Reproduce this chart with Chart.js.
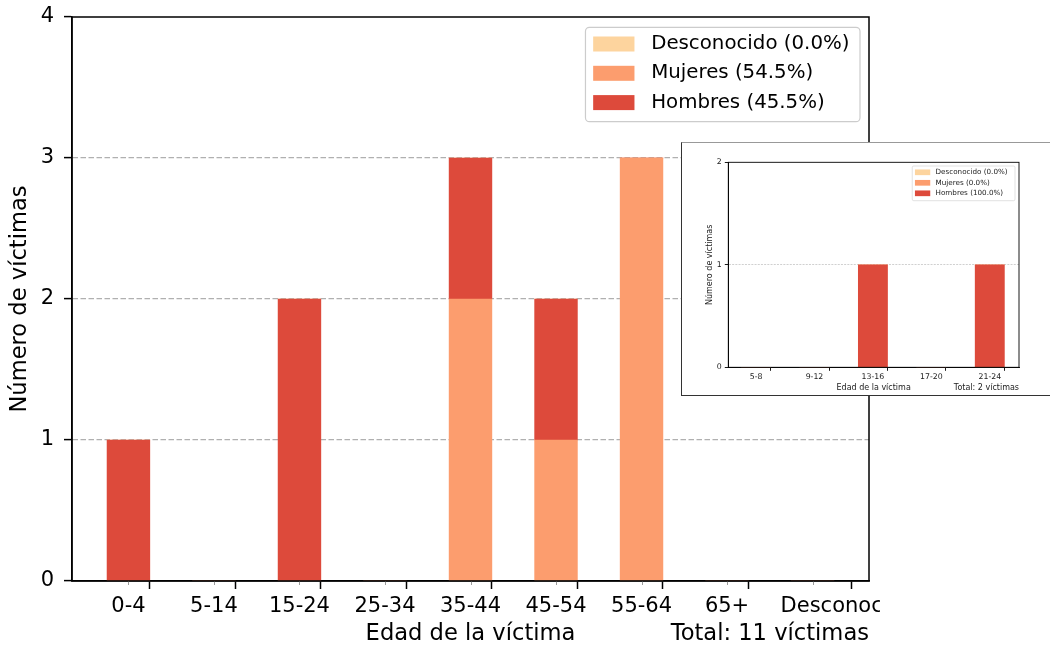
<!DOCTYPE html>
<html>
<head>
<meta charset="utf-8">
<script src="https://cdn.jsdelivr.net/npm/chart.js@4.4.1/dist/chart.umd.min.js"></script>
<style>
html,body{margin:0;padding:0;background:#fff;}
body{width:1050px;height:652px;position:relative;overflow:hidden;}
#mainWrap{position:absolute;left:0;top:0;width:880px;height:652px;overflow:hidden;}
#mainWrap canvas{position:absolute;left:0;top:0;}
#inset{position:absolute;left:681px;top:142px;width:369px;height:252px;border-left:1px solid #333;border-top:1px solid #999;border-bottom:1px solid #333;background:#fff;overflow:hidden;}
#inset canvas{position:absolute;left:0;top:0;}
</style>
</head>
<body>
<div id="mainWrap"><canvas id="main" width="1050" height="652"></canvas></div>
<div id="inset"><canvas id="ins" width="400" height="252"></canvas></div>
<script>
// ---- main chart data ----
const categories = ['0-4','5-14','15-24','25-34','35-44','45-54','55-64','65+','Desconocido'];
const hombres = [1,0,2,0,1,1,0,0,0];
const mujeres = [0,0,0,0,2,1,3,0,0];
const desconocido = [0,0,0,0,0,0,0,0,0];
const yTicks = [0,1,2,3,4];

// ---- inset chart data ----
const insetCategories = ['5-8','9-12','13-16','17-20','21-24'];
const insetHombres = [0,0,1,0,1];
const insetMujeres = [0,0,0,0,0];
const insetDesconocido = [0,0,0,0,0];
const insetYTicks = [0,1,2];

const COLORS = {unk:'#fdd49e', women:'#fc9d6e', men:'#dd4a3b'};
const FAMILY = "'DejaVu Sans', 'Liberation Sans', sans-serif";
Chart.defaults.font.family = FAMILY;
Chart.defaults.color = '#000';
Chart.defaults.animation = false;

function buildChart(canvas, o) {
  const n = o.categories.length;
  const L = o.L;
  const total = o.men.concat(o.women, o.unk).reduce((a,b)=>a+b,0);
  const share = a => (total ? a.reduce((s,v)=>s+v,0)/total*100 : 0).toFixed(1);
  const pts = a => a.map((v,i)=>({x:i, y:v}));
  const legendItems = [
    {text:'Desconocido (' + share(o.unk) + '%)', color:COLORS.unk},
    {text:'Mujeres (' + share(o.women) + '%)', color:COLORS.women},
    {text:'Hombres (' + share(o.men) + '%)', color:COLORS.men}
  ];
  const key = v => Math.round(v*1000);
  const labelPos = o.categories.map((c,i)=> i + ((o.labelShift && o.labelShift[i]) || 0));
  const labelMap = new Map(labelPos.map((p,i)=>[key(p), o.categories[i]]));
  const titleLH = L.title*1.2;

  const extras = {
    id:'extras',
    afterDatasetsDraw(chart) {
      const {ctx, chartArea:a, scales} = chart;
      ctx.save();
      ctx.strokeStyle = '#000';
      ctx.lineWidth = L.frame;
      ctx.strokeRect(a.left, a.top, a.right-a.left, a.bottom-a.top);
      if (L.minorTick) {
        ctx.strokeStyle = '#9a9a9a';
        ctx.lineWidth = 1;
        for (let i=0;i<n;i++) {
          const x = Math.round(scales.x.getPixelForValue(i)) + 0.5;
          ctx.beginPath();
          ctx.moveTo(x, a.bottom + L.frame/2);
          ctx.lineTo(x, a.bottom + L.minorTick);
          ctx.stroke();
        }
      }
      ctx.fillStyle = L.textColor;
      ctx.font = L.title + 'px ' + FAMILY;
      ctx.textAlign = 'right';
      ctx.textBaseline = 'middle';
      ctx.fillText('Total: ' + total + ' víctimas', a.right, chart.height - L.xTitlePad - titleLH/2);
      // legend
      ctx.font = L.legend + 'px ' + FAMILY;
      let maxW = 0;
      legendItems.forEach(it => { maxW = Math.max(maxW, ctx.measureText(it.text).width); });
      const boxW = L.lgPadL + L.swW + L.swGap + maxW + L.lgPadR;
      const boxR = a.right - L.lgRight;
      const boxL = boxR - boxW;
      const boxT = a.top + L.lgTop;
      ctx.beginPath();
      ctx.roundRect(boxL, boxT, boxW, L.lgH, L.lgRadius);
      ctx.fillStyle = 'rgba(255,255,255,0.85)';
      ctx.fill();
      ctx.strokeStyle = '#cccccc';
      ctx.lineWidth = L.lgBorder;
      ctx.stroke();
      ctx.textAlign = 'left';
      ctx.textBaseline = 'middle';
      legendItems.forEach((it,k) => {
        const cy = boxT + L.row0 + k*L.rowStep;
        ctx.fillStyle = it.color;
        ctx.fillRect(boxL + L.lgPadL, cy - L.swH/2, L.swW, L.swH);
        ctx.fillStyle = L.textColor;
        ctx.fillText(it.text, boxL + L.lgPadL + L.swW + L.swGap, cy);
      });
      ctx.restore();
    }
  };

  return new Chart(canvas, {
    type:'bar',
    data:{datasets:[
      {label:'Mujeres', data:pts(o.women), backgroundColor:COLORS.women, borderWidth:0},
      {label:'Hombres', data:pts(o.men), backgroundColor:COLORS.men, borderWidth:0},
      {label:'Desconocido', data:pts(o.unk), backgroundColor:COLORS.unk, borderWidth:0}
    ]},
    options:{
      responsive:false,
      devicePixelRatio:1,
      animation:false,
      layout:{padding:{left:0, top:L.padTop, right:L.padRight, bottom:0}},
      datasets:{bar:{barThickness:'flex', barPercentage:0.5, categoryPercentage:1}},
      plugins:{legend:{display:false}, tooltip:{enabled:false}, title:{display:false}},
      scales:{
        x:{
          type:'linear', stacked:true, min:o.xMin, max:o.xMax, offset:false,
          afterBuildTicks(s){
            const t = [];
            for (let v=-0.5; v<=n-0.5+1e-9; v+=0.5) t.push({value:v});
            labelPos.forEach(p => { if (!t.some(q => key(q.value)===key(p))) t.push({value:p}); });
            s.ticks = t.filter(q => q.value >= o.xMin - 1e-9 && q.value <= o.xMax + 1e-9).sort((a,b)=>a.value-b.value);
          },
          afterFit(s){ s.height = L.xAxisH; s.paddingLeft = 0; s.paddingRight = 0; },
          ticks:{autoSkip:false, maxRotation:0, minRotation:0, padding:L.xTickPad,
                 font:{size:L.tick}, color:L.textColor,
                 callback:(v)=> labelMap.get(key(v)) || ''},
          grid:{display:true, drawOnChartArea:false, drawTicks:true, tickLength:L.tickLen, tickWidth:L.frame,
                tickColor:(c)=> (c.tick && Math.abs(Math.abs(c.tick.value - Math.round(c.tick.value)) - 0.5) < 1e-6) ? '#000' : 'rgba(0,0,0,0)'},
          border:{display:true, color:'#000', width:L.frame},
          title:{display:true, text:'Edad de la víctima', font:{size:L.title}, color:L.textColor, padding:{top:0, bottom:L.xTitlePad}}
        },
        y:{
          type:'linear', stacked:true, min:0, max:o.yMax,
          afterBuildTicks(s){ s.ticks = o.yTicks.map(v=>({value:v})); },
          afterFit(s){ s.width = L.yAxisW; s.paddingTop = 0; s.paddingBottom = 0; },
          ticks:{padding:L.yTickPad, font:{size:L.tick}, color:L.textColor},
          grid:{display:true, drawOnChartArea:true, drawTicks:true, tickLength:L.tickLen, tickWidth:L.frame, tickColor:'#000',
                lineWidth:L.gridW,
                color:(c)=> (c.tick && (c.tick.value===0 || c.tick.value===o.yMax)) ? 'rgba(0,0,0,0)' : '#b0b0b0'},
          border:{display:true, color:'#000', width:L.frame, dash:L.dash},
          title:{display:true, text:'Número de víctimas', font:{size:L.title}, color:L.textColor, padding:{top:L.yTitlePad, bottom:0}}
        }
      }
    },
    plugins:[extras]
  });
}

buildChart(document.getElementById('main'), {
  categories: categories, men: hombres, women: mujeres, unk: desconocido,
  yTicks: yTicks, yMax: 4, xMin: -0.66, xMax: 8.66,
  labelShift: {8: 0.41},
  L: {padTop:17, padRight:181, xAxisH:71, yAxisW:72,
      tick:21, title:22.6, legend:19.8, tickLen:8, frame:1.5,
      xTickPad:5, yTickPad:10, xTitlePad:4, yTitlePad:7,
      gridW:1.2, dash:[5.5,2.5], minorTick:4, textColor:'#000',
      lgRight:9, lgTop:10.3, lgH:94.4, lgPadL:7.7, swW:41.3, swH:15, swGap:16.7, lgPadR:10.5,
      row0:16.7, rowStep:29.3, lgRadius:4, lgBorder:1.2}
});

buildChart(document.getElementById('ins'), {
  categories: insetCategories, men: insetHombres, women: insetMujeres, unk: insetDesconocido,
  yTicks: insetYTicks, yMax: 2, xMin: -0.475, xMax: 4.5,
  L: {padTop:19.3, padRight:63, xAxisH:27.7, yAxisW:46.3,
      tick:7.8, title:8, legend:7.2, tickLen:3.5, frame:0.9,
      xTickPad:1.5, yTickPad:3, xTitlePad:1.9, yTitlePad:23.2,
      gridW:0.6, dash:[2,1.2], minorTick:0, textColor:'#222',
      lgRight:4, lgTop:3.7, lgH:34.7, lgPadL:2.7, swW:15.3, swH:5.7, swGap:5.3, lgPadR:7.4,
      row0:6.3, rowStep:10.5, lgRadius:1.5, lgBorder:0.6}
});
</script>
</body>
</html>
